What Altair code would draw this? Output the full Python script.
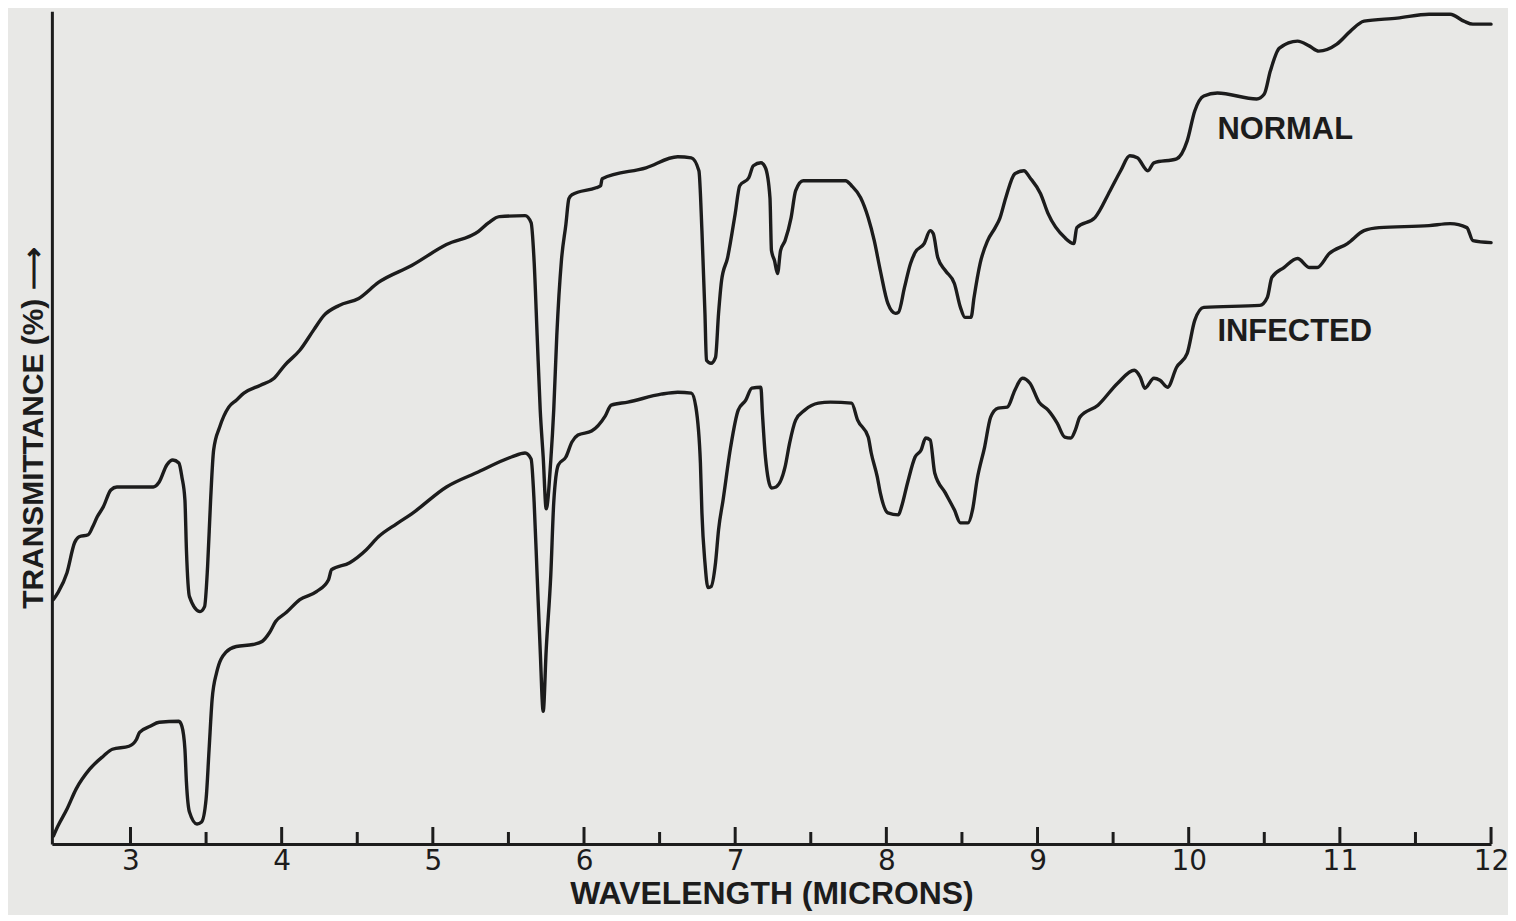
import altair as alt
import pandas as pd

# ---- data (wavelength in microns, transmittance in chart units) ----
normal_wl = [2.49, 2.52, 2.58, 2.63, 2.66, 2.72, 2.75, 2.78, 2.82, 2.87, 2.91, 3.15, 3.19, 3.24, 3.28,
             3.32, 3.34, 3.36, 3.37, 3.39, 3.46, 3.49, 3.51, 3.53, 3.55, 3.59, 3.65, 3.70, 3.75, 3.86,
             3.95, 4.02, 4.12, 4.21, 4.28, 4.38, 4.51, 4.64, 4.86, 5.09, 5.30, 5.37, 5.44, 5.61, 5.65,
             5.67, 5.69, 5.71, 5.73, 5.75, 5.78, 5.80, 5.82, 5.85, 5.88, 5.90, 5.92, 6.08, 6.11, 6.12,
             6.41, 6.62, 6.71, 6.76, 6.78, 6.80, 6.81, 6.84, 6.87, 6.89, 6.91, 6.95, 7.00, 7.03, 7.09,
             7.12, 7.17, 7.20, 7.23, 7.24, 7.26, 7.28, 7.30, 7.33, 7.37, 7.40, 7.45, 7.73, 7.77, 7.83,
             7.88, 7.92, 7.96, 8.01, 8.06, 8.08, 8.12, 8.16, 8.19, 8.25, 8.29, 8.31, 8.34, 8.39, 8.45,
             8.49, 8.52, 8.56, 8.58, 8.62, 8.67, 8.72, 8.75, 8.79, 8.85, 8.91, 8.95, 9.02, 9.07, 9.18,
             9.24, 9.26, 9.38, 9.48, 9.55, 9.61, 9.66, 9.73, 9.77, 9.92, 9.99, 10.04, 10.10, 10.19, 10.45,
             10.50, 10.54, 10.60, 10.72, 10.80, 10.86, 10.98, 11.07, 11.16, 11.38, 11.59, 11.73, 11.82,
             11.88, 12.00]
normal_t = [245, 252, 272, 302, 308, 310, 318, 328, 338, 355, 358, 358, 363, 380, 385,
            382, 368, 345, 295, 248, 233, 238, 278, 345, 395, 418, 438, 445, 452, 460,
            467, 480, 495, 515, 530, 540, 547, 563, 580, 601, 614, 623, 629, 630, 623,
            584, 510, 436, 388, 336, 384, 436, 510, 584, 621, 647, 651, 658, 660, 667,
            678, 689, 688, 675, 615, 532, 485, 482, 488, 532, 565, 588, 632, 660, 668,
            680, 683, 678, 648, 595, 585, 572, 595, 605, 628, 655, 665, 665, 660, 648,
            628, 605, 575, 542, 532, 533, 558, 582, 593, 602, 615, 612, 588, 575, 562,
            538, 528, 528, 548, 582, 605, 618, 627, 648, 672, 675, 668, 652, 632, 608,
            602, 618, 628, 655, 675, 690, 688, 675, 683, 687, 705, 735, 750, 753, 747,
            752, 775, 798, 805, 800, 795, 802, 815, 825, 828, 832, 832, 825,
            822, 822]

infected_wl = [2.49, 2.52, 2.58, 2.64, 2.73, 2.82, 2.88, 2.99, 3.04, 3.06, 3.13, 3.19, 3.32, 3.34, 3.36,
               3.37, 3.39, 3.44, 3.47, 3.50, 3.52, 3.54, 3.57, 3.63, 3.70, 3.81, 3.87, 3.92, 3.96, 4.03,
               4.12, 4.23, 4.31, 4.33, 4.45, 4.56, 4.64, 4.76, 4.86, 5.09, 5.30, 5.52, 5.61, 5.65, 5.67,
               5.69, 5.71, 5.73, 5.75, 5.78, 5.80, 5.83, 5.88, 5.92, 5.96, 6.05, 6.14, 6.18, 6.29, 6.51,
               6.62, 6.71, 6.74, 6.77, 6.78, 6.80, 6.82, 6.84, 6.87, 6.89, 6.92, 6.97, 7.02, 7.07, 7.11,
               7.17, 7.18, 7.20, 7.24, 7.27, 7.33, 7.36, 7.40, 7.46, 7.55, 7.63, 7.77, 7.81, 7.88, 7.90,
               7.94, 7.96, 8.01, 8.08, 8.10, 8.14, 8.19, 8.23, 8.26, 8.29, 8.32, 8.39, 8.45, 8.49, 8.54,
               8.57, 8.60, 8.65, 8.69, 8.74, 8.80, 8.85, 8.90, 8.95, 9.01, 9.07, 9.13, 9.18, 9.22, 9.25,
               9.28, 9.40, 9.53, 9.64, 9.68, 9.71, 9.77, 9.81, 9.86, 9.92, 9.99, 10.04, 10.10, 10.47, 10.52,
               10.55, 10.63, 10.72, 10.80, 10.85, 10.93, 11.05, 11.16, 11.26, 11.59, 11.73, 11.84, 11.88,
               12.00]
infected_t = [8, 18, 35, 55, 75, 88, 95, 98, 105, 112, 118, 122, 123, 118, 95,
              62, 32, 20, 22, 45, 95, 145, 172, 192, 198, 200, 203, 212, 223, 232,
              245, 253, 265, 275, 282, 295, 308, 321, 331, 358, 373, 388, 392, 386, 343,
              269, 195, 133, 195, 269, 343, 380, 388, 403, 410, 414, 429, 440, 443, 451,
              453, 452, 438, 382, 332, 282, 257, 258, 282, 315, 345, 398, 435, 445, 457,
              458, 432, 388, 357, 358, 378, 402, 425, 435, 442, 443, 442, 425, 408, 392,
              368, 352, 332, 330, 338, 362, 388, 395, 407, 405, 372, 352, 335, 322, 322,
              335, 365, 398, 428, 437, 438, 455, 467, 462, 443, 435, 422, 408, 407, 415,
              428, 440, 462, 475, 468, 457, 467, 465, 458, 478, 492, 525, 538, 540, 548,
              568, 578, 587, 578, 578, 592, 602, 615, 618, 620, 622, 618, 605,
              603]

major_ticks = [3, 4, 5, 6, 7, 8, 9, 10, 11, 12]
minor_ticks = [3.5, 4.5, 5.5, 6.5, 7.5, 8.5, 9.5, 10.5, 11.5]

label_text = ["NORMAL", "INFECTED"]
label_wl = [10.19, 10.19]
label_t = [716, 513]

# ---- layout constants ----
W, H = 1443, 835
INK = "#1c1c1c"
BG = "#e8e8e6"

curves = pd.concat([
    pd.DataFrame({"wl": normal_wl, "t": normal_t, "sample": "Normal"}),
    pd.DataFrame({"wl": infected_wl, "t": infected_t, "sample": "Infected"}),
], ignore_index=True)

xscale = alt.Scale(domain=[2.48, 12.0], nice=False, zero=False)
yscale = alt.Scale(domain=[0, 835], nice=False)

x_axis = alt.Axis(
    values=major_ticks, format="d", ticks=False, grid=False,
    domainColor=INK, domainWidth=3, labelFlush=False, labelOverlap=False,
    labelFont="DejaVu Sans", labelFontSize=28, labelColor=INK, labelPadding=4,
    title="WAVELENGTH (MICRONS)", titleFont="Liberation Sans", titleFontSize=32,
    titleFontWeight="bold", titleColor=INK, titlePadding=3,
)
y_axis = alt.Axis(
    labels=False, ticks=False, grid=False, domainColor=INK, domainWidth=3,
    title="TRANSMITTANCE (%) ⟶", titleFont="Liberation Sans", titleFontSize=30,
    titleFontWeight="bold", titleColor=INK, titlePadding=3,
)

lines = alt.Chart(curves).mark_line(
    color=INK, strokeWidth=3.4, interpolate="monotone", strokeJoin="round", strokeCap="round"
).encode(
    x=alt.X("wl:Q", scale=xscale, axis=x_axis),
    y=alt.Y("t:Q", scale=yscale, axis=y_axis),
    detail="sample:N",
)

major = alt.Chart(pd.DataFrame({"wl": major_ticks})).mark_rule(color=INK, strokeWidth=3).encode(
    x=alt.X("wl:Q", scale=xscale),
    y=alt.value(H), y2=alt.value(H - 17),
)
minor = alt.Chart(pd.DataFrame({"wl": minor_ticks})).mark_rule(color=INK, strokeWidth=3).encode(
    x=alt.X("wl:Q", scale=xscale),
    y=alt.value(H), y2=alt.value(H - 12),
)

labels = alt.Chart(pd.DataFrame({"wl": label_wl, "t": label_t, "text": label_text})).mark_text(
    align="left", baseline="middle", font="Liberation Sans", fontSize=31, fontWeight="bold", color=INK
).encode(
    x=alt.X("wl:Q", scale=xscale),
    y=alt.Y("t:Q", scale=yscale),
    text="text:N",
)

chart = alt.layer(lines, major, minor, labels).properties(
    width=W, height=H,
    background=BG,
    padding={"left": 44, "top": 2, "right": 17, "bottom": 70},
    autosize=alt.AutoSizeParams(type="none"),
).configure_view(stroke=None)

chart.save("out.html", embed_options={"renderer": "svg", "actions": False})
